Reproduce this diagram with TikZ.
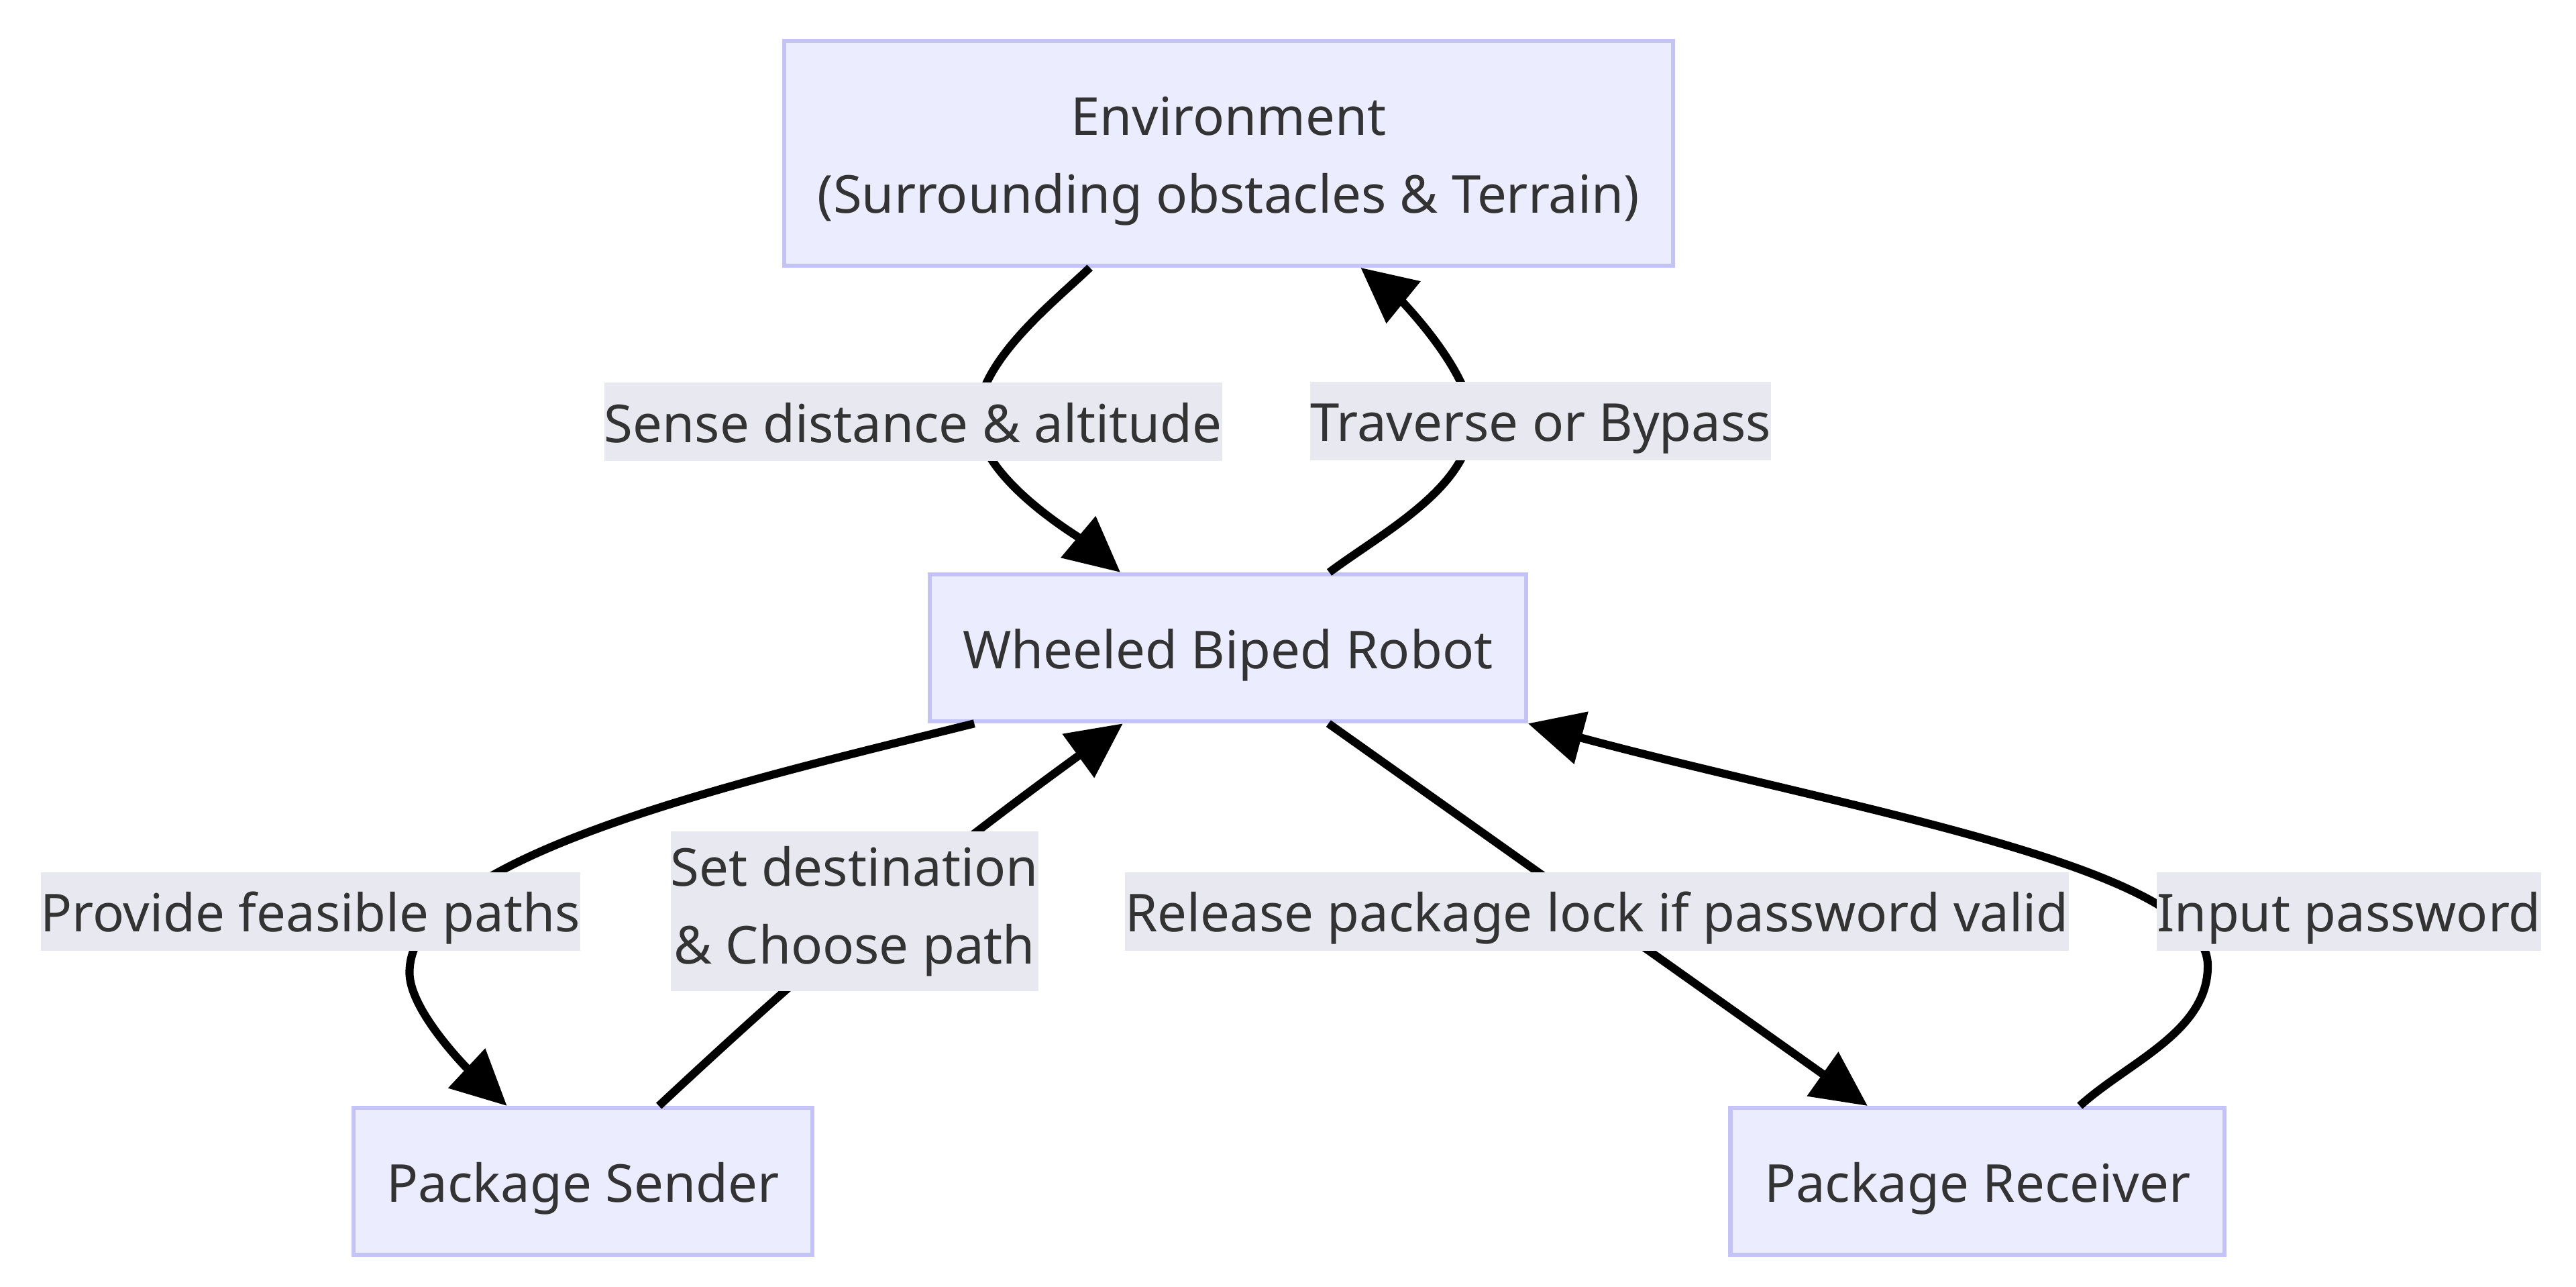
\documentclass[tikz,border=0pt]{standalone}
\usepackage{fontspec}
\setmainfont{Noto Sans}
\usetikzlibrary{arrows.meta,calc}
\definecolor{boxfill}{HTML}{ECECFF}
\definecolor{boxline}{HTML}{C3C3F8}
\definecolor{lblfill}{HTML}{E8E8F0}
\definecolor{txt}{HTML}{333333}
\tikzset{
  box/.style={draw=boxline, fill=boxfill, line width=0.7pt, text=txt, inner sep=0pt,
    text height=10.3pt, text depth=3.2pt, font=\fontsize{9pt}{13.4pt}\selectfont},
  lbl/.style={fill=lblfill, text=txt, inner xsep=0pt, inner ysep=0pt, text height=10.3pt,
    text depth=3.2pt, font=\fontsize{9pt}{13.5pt}\selectfont},
  lbltwo/.style={fill=lblfill, text=txt, inner xsep=0pt, inner ysep=2.5pt, align=center,
    font=\fontsize{9pt}{13.5pt}\selectfont},
  edge/.style={line width=1.4pt, -{Triangle[length=9.5pt,width=9pt]}}
}
\begin{document}
\begin{tikzpicture}[x=0.01cm,y=0.01cm]
\useasboundingbox (0,0) rectangle (1560,778.8);
% boxes
\node[box, minimum width=5.38cm, minimum height=1.36cm, text height=16.6pt, text depth=10.3pt] (env) at (744,686)
  {\begin{tabular}{@{}c@{}}Environment\\(Surrounding obstacles \& Terrain)\end{tabular}};
\node[box, minimum width=3.61cm, minimum height=0.89cm] (robot) at (743.5,386.5) {Wheeled Biped Robot};
\node[box, minimum width=2.78cm, minimum height=0.89cm] (sender) at (353,63.5) {Package Sender};
\node[box, minimum width=2.99cm, minimum height=0.89cm] (receiver) at (1197.5,63.5) {Package Receiver};
% edges
\draw[edge] ($(env.south)+(-84,0)$) .. controls +(-21.6,-20.8) and +(0,35) .. (592,525)
  .. controls +(0,-35) and +(-26.8,22.5) .. ($(robot.north)+(-65,0)$);
\draw[edge] ($(robot.north)+(61.5,0)$) .. controls +(32,24) and +(0,-40) .. (891,524)
  .. controls +(0,30) and +(23.3,-18.9) .. ($(env.south)+(80,0)$);
\draw[edge] ($(robot.south)+(-153.5,0)$) .. controls +(-145.5,-36.3) and +(0,70) .. (248,190)
  .. controls +(0,-25) and +(-18.3,17.1) .. ($(sender.north)+(-46,0)$);
\draw[edge] ($(sender.north)+(46,0)$) to[out=43,in=-144] ($(robot.south)+(-63.5,0)$);
\draw[edge] ($(robot.south)+(61,0)$) -- ($(receiver.north)+(-66.5,0)$);
\draw[edge] ($(receiver.north)+(62,0)$) .. controls +(29.7,26.8) and +(0,-40) .. (1337,194)
  .. controls +(0,60) and +(193,-52) .. (robot.south east);
% labels
\node[lbl] (lsense) at (553,523.5) {Sense distance \& altitude};
\node[lbl] (ltrav) at (933,524) {Traverse or Bypass};
\node[lbl] (lprov) at (188,227) {Provide feasible paths};
\node[lbltwo] (lset) at (517.5,227) {Set destination\\\& Choose path};
\node[lbl] (lrel) at (967,227) {Release package lock if password valid};
\node[lbl] (linput) at (1422.5,227) {Input password};
\end{tikzpicture}
\end{document}
